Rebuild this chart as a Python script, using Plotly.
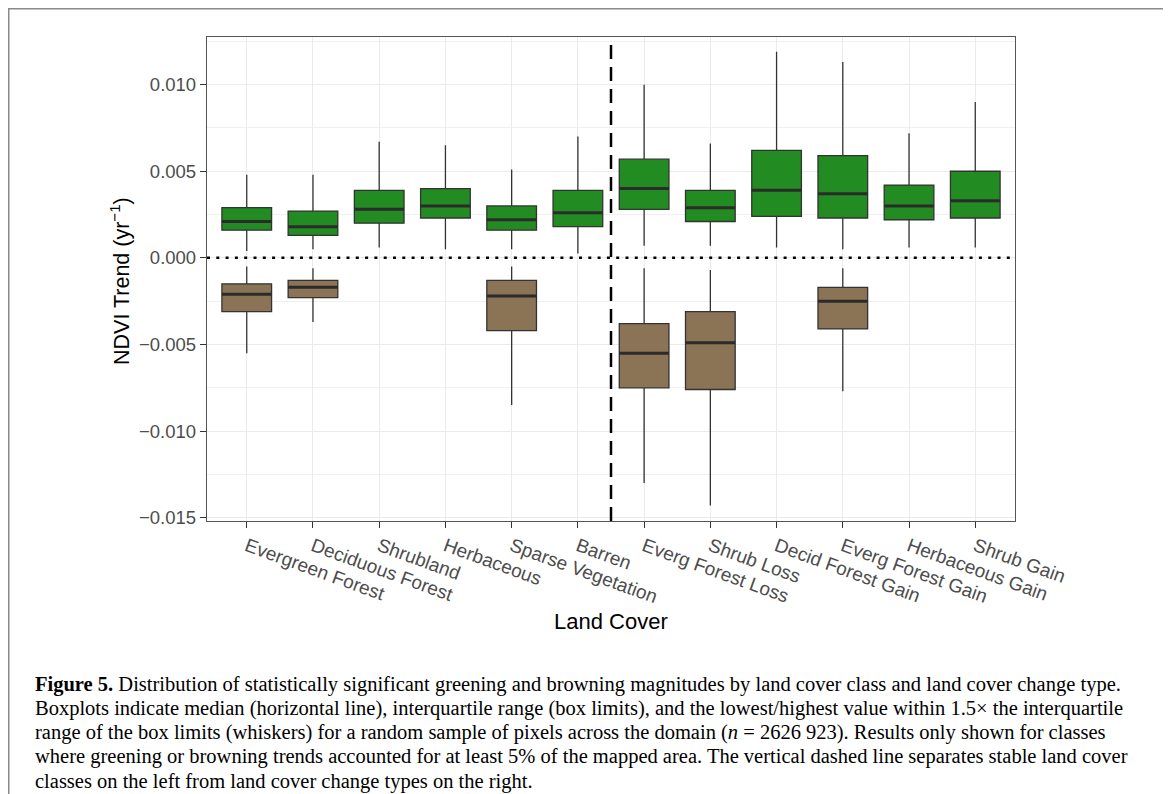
import plotly.graph_objects as go

# ---------------- data ----------------
categories = ["Evergreen Forest", "Deciduous Forest", "Shrubland", "Herbaceous",
              "Sparse Vegetation", "Barren", "Everg Forest Loss", "Shrub Loss",
              "Decid Forest Gain", "Everg Forest Gain", "Herbaceous Gain", "Shrub Gain"]
n_stable = 6  # first six are stable classes, the rest are change types

green_low = [0.0004, 0.0005, 0.0006, 0.0005, 0.0005, 0.00025, 0.0007, 0.0007, 0.0006, 0.0005, 0.0006, 0.0006]
green_q1 = [0.0016, 0.0013, 0.0020, 0.0023, 0.0016, 0.0018, 0.0028, 0.0021, 0.0024, 0.0023, 0.0022, 0.0023]
green_med = [0.0021, 0.0018, 0.0028, 0.0030, 0.0022, 0.0026, 0.0040, 0.0029, 0.0039, 0.0037, 0.0030, 0.0033]
green_q3 = [0.0029, 0.0027, 0.0039, 0.0040, 0.0030, 0.0039, 0.0057, 0.0039, 0.0062, 0.0059, 0.0042, 0.0050]
green_high = [0.0048, 0.0048, 0.0067, 0.0065, 0.0051, 0.0070, 0.0100, 0.0066, 0.0119, 0.0113, 0.0072, 0.0090]

brown_cats = ["Evergreen Forest", "Deciduous Forest", "Sparse Vegetation",
              "Everg Forest Loss", "Shrub Loss", "Everg Forest Gain"]
brown_high = [-0.0005, -0.0006, -0.0005, -0.0006, -0.0007, -0.0006]
brown_q3 = [-0.0015, -0.0013, -0.0013, -0.0038, -0.0031, -0.0017]
brown_med = [-0.0021, -0.0017, -0.0022, -0.0055, -0.0049, -0.0025]
brown_q1 = [-0.0031, -0.0023, -0.0042, -0.0075, -0.0076, -0.0041]
brown_low = [-0.0055, -0.0037, -0.0085, -0.0130, -0.0143, -0.0077]

y_ticks = [-0.015, -0.010, -0.005, 0.0, 0.005, 0.010]
y_ticktext = ["\u22120.015", "\u22120.010", "\u22120.005", "0.000", "0.005", "0.010"]

caption_lines = [
    "<b>Figure 5.</b> Distribution of statistically significant greening and browning magnitudes by land cover class and land cover change type.",
    "Boxplots indicate median (horizontal line), interquartile range (box limits), and the lowest/highest value within 1.5\u00d7 the interquartile",
    "range of the box limits (whiskers) for a random sample of pixels across the domain (<i>n</i> = 2626 923). Results only shown for classes",
    "where greening or browning trends accounted for at least 5% of the mapped area. The vertical dashed line separates stable land cover",
    "classes on the left from land cover change types on the right.",
]

# ---------------- layout helpers (page pixel coords; page has 8px body margin) ----------------
OFF = 8
W, H = 1171 - OFF, 794 - OFF
L, R, T, B = 207, 1015, 37, 521   # panel edges in page pixels
def px(xp):
    return (xp - L) / (R - L)
def py(yp):
    return (B - yp) / (B - T)

GREEN = "#228B22"
BROWN = "#8B7355"
OUT = "#333333"
BW = 0.75

xg = list(range(len(categories)))
xb = [categories.index(c) for c in brown_cats]

fig = go.Figure()
fig.add_trace(go.Box(x=xg, q1=green_q1, median=green_med, q3=green_q3,
                     lowerfence=green_low, upperfence=green_high,
                     fillcolor=GREEN, line=dict(color=OUT, width=1.3),
                     width=BW, whiskerwidth=0, boxpoints=False, showlegend=False,
                     hoverinfo="skip"))
fig.add_trace(go.Box(x=xb, q1=brown_q1, median=brown_med, q3=brown_q3,
                     lowerfence=brown_low, upperfence=brown_high,
                     fillcolor=BROWN, line=dict(color=OUT, width=1.3),
                     width=BW, whiskerwidth=0, boxpoints=False, showlegend=False,
                     hoverinfo="skip"))

# thicker median lines
mx, my = [], []
for xs, meds in ((xg, green_med), (xb, brown_med)):
    for xi, m in zip(xs, meds):
        mx += [xi - BW / 2, xi + BW / 2, None]
        my += [m, m, None]
fig.add_trace(go.Scatter(x=mx, y=my, mode="lines", line=dict(color="#2b2b2b", width=3),
                         showlegend=False, hoverinfo="skip"))

fig.update_layout(
    width=W, height=H,
    margin=dict(l=L - OFF, r=W - (R - OFF), t=T - OFF, b=H - (B - OFF)),
    paper_bgcolor="white", plot_bgcolor="white",
    boxmode="overlay",
    font=dict(family="Liberation Sans, Arial, sans-serif"),
)
fig.update_xaxes(range=[-0.6, len(categories) - 0.4],
                 tickmode="array", tickvals=xg, ticktext=categories,
                 tickangle=20, tickfont=dict(size=19, color="#4d4d4d"),
                 ticks="outside", ticklen=6, tickcolor="#333333", tickwidth=1.3,
                 showgrid=True, gridcolor="#ebebeb", gridwidth=1.3,
                 showline=True, mirror=True, linecolor="#555555", linewidth=1.3,
                 zeroline=False)
fig.update_yaxes(range=[-0.01519, 0.01275],
                 tickmode="array", tickvals=y_ticks, ticktext=y_ticktext,
                 tickfont=dict(size=18.5, color="#4d4d4d"),
                 ticks="outside", ticklen=6, tickcolor="#333333", tickwidth=1.3,
                 showgrid=True, gridcolor="#ebebeb", gridwidth=1.3,
                 minor=dict(dtick=0.0025, tick0=0, showgrid=True, gridcolor="#f0f0f0", gridwidth=0.7, ticks=""),
                 showline=True, mirror=True, linecolor="#555555", linewidth=1.3,
                 zeroline=False)

# reference lines
fig.add_shape(type="line", xref="paper", yref="y", x0=0, x1=1, y0=0, y1=0,
              line=dict(color="black", width=2.5, dash="3px,6.3px"))
fig.add_shape(type="line", xref="x", yref="paper", x0=n_stable - 0.5, x1=n_stable - 0.5, y0=0, y1=1,
              line=dict(color="black", width=2.5, dash="14px,8px"))

# outer frame
fig.add_shape(type="rect", xref="paper", yref="paper",
              x0=px(8.5), x1=px(1165), y0=py(8.5), y1=py(820),
              line=dict(color="#8a8a8a", width=2), layer="above")

# axis titles
fig.add_annotation(xref="paper", yref="paper", x=px(611), y=py(621), text="Land Cover",
                   showarrow=False, xanchor="center", yanchor="middle",
                   font=dict(size=22, color="black"))
fig.add_annotation(xref="paper", yref="paper", x=px(120), y=py(281), text="NDVI Trend (yr<sup>\u22121</sup>)",
                   showarrow=False, xanchor="center", yanchor="middle", textangle=-90,
                   font=dict(size=21.5, color="black"))

# caption, one annotation per line for tight line spacing
for i, line in enumerate(caption_lines):
    fig.add_annotation(xref="paper", yref="paper", x=px(33), y=py(684 + 24.3 * i), text=line,
                       showarrow=False, xanchor="left", yanchor="middle", align="left",
                       font=dict(family="Liberation Serif, Times New Roman, serif", size=20.5, color="black"))

fig.write_html("out.html")
